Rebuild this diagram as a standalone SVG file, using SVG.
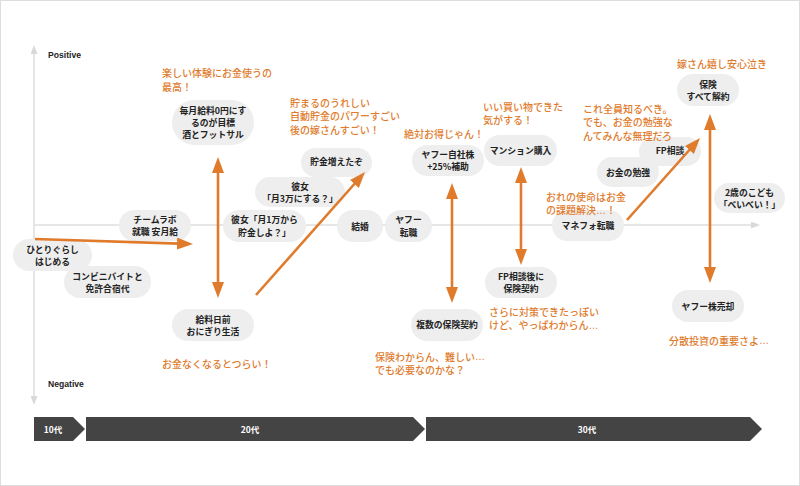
<svg xmlns="http://www.w3.org/2000/svg" width="800" height="486" viewBox="0 0 800 486">
<style>
.pill{fill:#eeeeee}
.nt{font-family:"Noto Sans CJK JP","Noto Sans",sans-serif;font-size:8.8px;font-weight:bold;fill:#222;text-anchor:middle;dominant-baseline:central}
.ann{font-family:"Noto Sans CJK JP","Noto Sans",sans-serif;font-size:10px;font-weight:500;fill:#e07b2c;dominant-baseline:central}
.el{font-family:"Liberation Sans",Arial,sans-serif}
.ax{stroke:#e6e6e6;stroke-width:2;fill:none}
.arr{stroke:#e07b2c;stroke-width:2.6;fill:none}
.lbl{font-family:"Liberation Sans",Arial,sans-serif;font-size:8.6px;font-weight:bold;fill:#222;dominant-baseline:central}
.era{fill:#444}
.et{font-family:"Noto Sans CJK JP","Noto Sans",sans-serif;font-size:8.5px;font-weight:bold;fill:#fff;text-anchor:middle;dominant-baseline:central}
</style>
<defs>
<marker id="ah" markerUnits="userSpaceOnUse" markerWidth="16" markerHeight="12" refX="2" refY="6" orient="auto-start-reverse">
<path d="M0,0 L16,6 L0,12 Z" fill="#e07b2c"/>
</marker>
<marker id="axh" markerUnits="userSpaceOnUse" markerWidth="9" markerHeight="7" refX="1" refY="3.5" orient="auto-start-reverse">
<path d="M0,0 L9,3.5 L0,7 Z" fill="#d9d9d9"/>
</marker>
</defs>
<rect x="0.5" y="0.5" width="799" height="485" fill="#fff" stroke="#dddddd"/>
<g id="axes">
<line class="ax" x1="34" y1="53" x2="34" y2="397" marker-start="url(#axh)" marker-end="url(#axh)"/>
<line class="ax" x1="34" y1="225" x2="752" y2="225" marker-end="url(#axh)"/>
<text class="lbl" x="48" y="55">Positive</text>
<text class="lbl" x="48" y="384">Negative</text>
</g>
<g id="timeline">
<g id="era10"><path class="era" d="M34,417 H73 L85,429 L73,441 H34 Z"/><text class="et" x="53" y="429">10代</text></g>
<g id="era20"><path class="era" d="M86,417 H413 L425,429 L413,441 H86 Z"/><text class="et" x="250" y="429">20代</text></g>
<g id="era30"><path class="era" d="M426,417 H750 L762,429 L750,441 H426 Z"/><text class="et" x="587" y="429">30代</text></g>
</g>
<g id="n-hitori"><rect class="pill" x="13" y="239" width="79" height="32" rx="16"/><text class="nt" x="52.5" y="249">ひとりぐらし</text><text class="nt" x="52.5" y="261">はじめる</text></g>
<g id="n-conbini"><rect class="pill" x="64" y="266" width="87" height="32" rx="16"/><text class="nt" x="107.5" y="276">コンビニバイトと</text><text class="nt" x="107.5" y="288">免許合宿代</text></g>
<g id="n-teamlab"><rect class="pill" x="119" y="210" width="72" height="31" rx="15.5"/><text class="nt" x="155" y="219.5">チームラボ</text><text class="nt" x="155" y="231.5">就職 安月給</text></g>
<g id="n-mainichi"><rect class="pill" x="172" y="100" width="82" height="45" rx="22.5"/><text class="nt" x="213" y="110">毎月給料0円にす</text><text class="nt" x="213" y="122">るのが目標</text><text class="nt" x="213" y="134">酒とフットサル</text></g>
<g id="n-kyuryo"><rect class="pill" x="172" y="309" width="82" height="32" rx="16"/><text class="nt" x="213" y="319">給料日前</text><text class="nt" x="213" y="331">おにぎり生活</text></g>
<g id="n-chokin"><rect class="pill" x="301" y="148" width="71" height="29" rx="14.5"/><text class="nt" x="336.5" y="161">貯金増えたぞ</text></g>
<g id="n-kanojo3"><rect class="pill" x="255" y="177" width="90" height="30" rx="15"/><text class="nt" x="300" y="186">彼女</text><text class="nt" x="300" y="198">「月3万にする？」</text></g>
<g id="n-kanojo1"><rect class="pill" x="223" y="210" width="83" height="32" rx="16"/><text class="nt" x="264.5" y="219">彼女「月1万から</text><text class="nt" x="264.5" y="232">貯金しよ？」</text></g>
<g id="n-kekkon"><rect class="pill" x="337" y="210" width="46" height="32" rx="16"/><text class="nt" x="360" y="226">結婚</text></g>
<g id="n-yahoo"><rect class="pill" x="385" y="210" width="47" height="32" rx="16"/><text class="nt" x="408.5" y="219.5">ヤフー</text><text class="nt" x="408.5" y="232">転職</text></g>
<g id="n-jisha"><rect class="pill" x="412" y="145" width="72" height="31" rx="15.5"/><text class="nt" x="448" y="154">ヤフー自社株</text><text class="nt" x="448" y="166.5">+25%補助</text></g>
<g id="n-fukusu"><rect class="pill" x="411" y="309" width="72" height="32" rx="16"/><text class="nt" x="447" y="324.5">複数の保険契約</text></g>
<g id="n-mansion"><rect class="pill" x="484" y="135" width="73" height="31" rx="15.5"/><text class="nt" x="520.5" y="150">マンション購入</text></g>
<g id="n-fpgo"><rect class="pill" x="485" y="267" width="72" height="31" rx="15.5"/><text class="nt" x="521" y="276">FP相談後に</text><text class="nt" x="521" y="288">保険契約</text></g>
<g id="n-manefo"><rect class="pill" x="552" y="210" width="72" height="31" rx="15.5"/><text class="nt" x="588" y="225">マネフォ転職</text></g>
<g id="n-fp"><rect class="pill" x="639" y="137" width="62" height="29" rx="14.5"/><text class="nt" x="670" y="150.5">FP相談</text></g>
<g id="n-benkyo"><rect class="pill" x="597" y="157" width="62" height="30" rx="15"/><text class="nt" x="628" y="172">お金の勉強</text></g>
<g id="n-kaiyaku"><rect class="pill" x="677" y="74" width="62" height="32" rx="16"/><text class="nt" x="708" y="84">保険</text><text class="nt" x="708" y="96">すべて解約</text></g>
<g id="n-2sai"><rect class="pill" x="714" y="183" width="71" height="30" rx="15"/><text class="nt" x="749.5" y="192.5">2歳のこども</text><text class="nt" x="749.5" y="204.5">「べいべい！」</text></g>
<g id="n-baikyaku"><rect class="pill" x="672" y="290" width="72" height="32" rx="16"/><text class="nt" x="708" y="306">ヤフー株売却</text></g>
<g id="connectors">
<line class="arr" x1="35" y1="239" x2="179" y2="243.6" marker-end="url(#ah)"/>
<line class="arr" x1="218" y1="171" x2="218" y2="284" marker-start="url(#ah)" marker-end="url(#ah)"/>
<line class="arr" x1="256" y1="295" x2="355.7" y2="182.5" marker-end="url(#ah)"/>
<line class="arr" x1="452" y1="197" x2="452" y2="289" marker-start="url(#ah)" marker-end="url(#ah)"/>
<line class="arr" x1="521" y1="181" x2="521" y2="251" marker-start="url(#ah)" marker-end="url(#ah)"/>
<line class="arr" x1="627" y1="220" x2="690.7" y2="148.5" marker-end="url(#ah)"/>
<line class="arr" x1="710" y1="128" x2="710" y2="269" marker-start="url(#ah)" marker-end="url(#ah)"/>
</g>
<g id="annotations">
<text class="ann" x="162" y="72">楽しい体験にお金使うの</text>
<text class="ann" x="162" y="86">最高！</text>
<text class="ann" x="162" y="363">お金なくなるとつらい！</text>
<text class="ann" x="290" y="102">貯まるのうれしい</text>
<text class="ann" x="290" y="115.5">自動貯金のパワーすごい</text>
<text class="ann" x="290" y="129">後の嫁さんすごい！</text>
<text class="ann" x="404" y="133">絶対お得じゃん！</text>
<text class="ann" x="483" y="106">いい買い物できた</text>
<text class="ann" x="483" y="119.5">気がする！</text>
<text class="ann" x="375" y="356">保険わからん、難しい<tspan class="el">…</tspan></text>
<text class="ann" x="375" y="369.5">でも必要なのかな？</text>
<text class="ann" x="489" y="311">さらに対策できたっぽい</text>
<text class="ann" x="489" y="324.5">けど、やっぱわからん<tspan class="el">…</tspan></text>
<text class="ann" x="583" y="108">これ全員知るべき。</text>
<text class="ann" x="583" y="121.5">でも、お金の勉強な</text>
<text class="ann" x="583" y="135">んてみんな無理だろ</text>
<text class="ann" x="546" y="196">おれの使命はお金</text>
<text class="ann" x="546" y="209.5">の課題解決<tspan class="el">…</tspan>！</text>
<text class="ann" x="677" y="63">嫁さん嬉し安心泣き</text>
<text class="ann" x="669" y="340">分散投資の重要さよ<tspan class="el">…</tspan></text>
</g>
</svg>
